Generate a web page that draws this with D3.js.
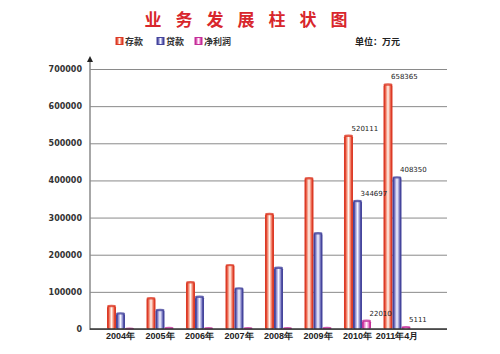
<!DOCTYPE html>
<html>
<head>
<meta charset="utf-8">
<script src="https://cdn.jsdelivr.net/npm/d3@7"></script>
<style>
  body { margin: 0; background: #fff; }
  svg { display: block; font-family: "Noto Sans CJK SC", "DejaVu Sans", sans-serif; }
</style>
</head>
<body>
<svg id="chart" width="500" height="354"></svg>
<script>
// data
var years = ['2004年', '2005年', '2006年', '2007年', '2008年', '2009年', '2010年', '2011年4月'];
var deposits = [62000, 82600, 125700, 172000, 309600, 406000, 520111, 658365];
var loans = [42000, 51000, 87000, 109500, 165000, 257600, 344697, 408350];
var profits = [1000, 3000, 2000, 2000, 2000, 3000, 22010, 5111];
var yTicks = [0, 100000, 200000, 300000, 400000, 500000, 600000, 700000];
var labelled = [6, 7]; // groups with value labels

var seriesNames = ['存款', '贷款', '净利润'];
var seriesData = [deposits, loans, profits];
var colors = [
  {edge: '#dc3a26', soft: '#f3866e', mid: '#fff6f0'},
  {edge: '#45459c', soft: '#9494d2', mid: '#f6f6ff'},
  {edge: '#c42f98', soft: '#ee88d0', mid: '#fff2fb'}
];

var svg = d3.select('#chart');
var plot = {left: 90, right: 447, top: 69, bottom: 329};

var x = d3.scaleBand().domain(years).range([107, 410.5]).paddingInner(0.316).paddingOuter(0);
var xs = d3.scaleBand().domain(d3.range(3)).range([0, x.bandwidth()]);
var y = d3.scaleLinear().domain([0, 700000]).range([plot.bottom, plot.top]);

// cylinder look gradients
var defs = svg.append('defs');
colors.forEach(function(c, i) {
  var g = defs.append('linearGradient').attr('id', 'g' + i)
    .attr('x1', 0).attr('x2', 1).attr('y1', 0).attr('y2', 0);
  g.append('stop').attr('offset', '0%').attr('stop-color', c.edge);
  g.append('stop').attr('offset', '14%').attr('stop-color', c.edge);
  g.append('stop').attr('offset', '28%').attr('stop-color', c.soft);
  g.append('stop').attr('offset', '50%').attr('stop-color', c.mid);
  g.append('stop').attr('offset', '72%').attr('stop-color', c.soft);
  g.append('stop').attr('offset', '86%').attr('stop-color', c.edge);
  g.append('stop').attr('offset', '100%').attr('stop-color', c.edge);
});

// title
svg.append('text')
  .attr('x', 253).attr('y', 26)
  .attr('text-anchor', 'middle')
  .style('font-size', '17px').style('font-weight', 'bold')
  .style('letter-spacing', '14px')
  .attr('fill', '#d8262c')
  .text('业务发展柱状图');

// legend
var legend = svg.append('g').attr('transform', 'translate(116,44)');
var lx = [0, 41, 79];
seriesNames.forEach(function(n, i) {
  var item = legend.append('g').attr('transform', 'translate(' + lx[i] + ',0)');
  item.append('rect').attr('x', 0).attr('y', -6.5).attr('width', 7).attr('height', 7)
    .attr('fill', 'url(#g' + i + ')').attr('stroke', colors[i].edge);
  item.append('text').attr('x', 9).attr('y', 1)
    .style('font-size', '9px').style('font-weight', 'bold').attr('fill', '#333')
    .text(n);
});
svg.append('text').attr('x', 355).attr('y', 45)
  .style('font-size', '9px').style('font-weight', 'bold').attr('fill', '#222')
  .text('单位：万元');

// grid + y axis
var yAxis = svg.append('g')
  .attr('transform', 'translate(' + plot.left + ',0)')
  .call(d3.axisLeft(y).tickValues(yTicks).tickSize(-(plot.right - plot.left)).tickPadding(8).tickFormat(d3.format('d')));
yAxis.select('.domain').remove();
yAxis.selectAll('.tick line').attr('stroke', '#8a8a8a');
yAxis.selectAll('.tick text')
  .style('font-size', '8px').style('font-weight', 'bold')
  .style('font-family', '"DejaVu Sans", sans-serif').attr('fill', '#333');

svg.append('line').attr('x1', plot.left).attr('x2', plot.left).attr('y1', 60).attr('y2', plot.bottom + 1)
  .attr('stroke', '#8a8a8a').attr('stroke-width', 1.5);
svg.append('path').attr('d', 'M' + plot.left + ',56 L' + (plot.left - 3) + ',62 L' + (plot.left + 3) + ',62 Z')
  .attr('fill', '#222');

// bars
var groups = svg.append('g').selectAll('g').data(years).join('g')
  .attr('transform', function(d) { return 'translate(' + x(d) + ',0)'; });

seriesData.forEach(function(vals, s) {
  groups.append('rect')
    .attr('x', xs(s))
    .attr('y', function(d, i) { return y(vals[i]); })
    .attr('width', xs.bandwidth())
    .attr('height', function(d, i) { return plot.bottom - y(vals[i]); })
    .attr('rx', 1.5)
    .attr('fill', 'url(#g' + s + ')');
  groups.append('ellipse')
    .attr('cx', xs(s) + xs.bandwidth() / 2)
    .attr('cy', function(d, i) { return y(vals[i]); })
    .attr('rx', xs.bandwidth() / 2).attr('ry', 1.2)
    .attr('fill', colors[s].edge)
    .attr('opacity', 0.8);
});

// value labels
labelled.forEach(function(i) {
  seriesData.forEach(function(vals, s) {
    svg.append('text')
      .attr('x', x(years[i]) + xs(s) + xs.bandwidth() / 2 + 3)
      .attr('y', y(vals[i]) - 5)
      .style('font-size', '7px').style('font-family', '"DejaVu Sans", sans-serif')
      .attr('fill', '#222')
      .text(vals[i]);
  });
});

// x axis
var xAxis = svg.append('g')
  .attr('transform', 'translate(0,' + plot.bottom + ')')
  .call(d3.axisBottom(x).tickSize(0).tickPadding(4));
xAxis.select('.domain').attr('d', 'M' + plot.left + ',0H' + plot.right).attr('stroke', '#333').attr('stroke-width', 1.3);
xAxis.selectAll('.tick text')
  .style('font-size', '9px').style('font-weight', 'bold').attr('fill', '#222');
</script>
</body>
</html>
